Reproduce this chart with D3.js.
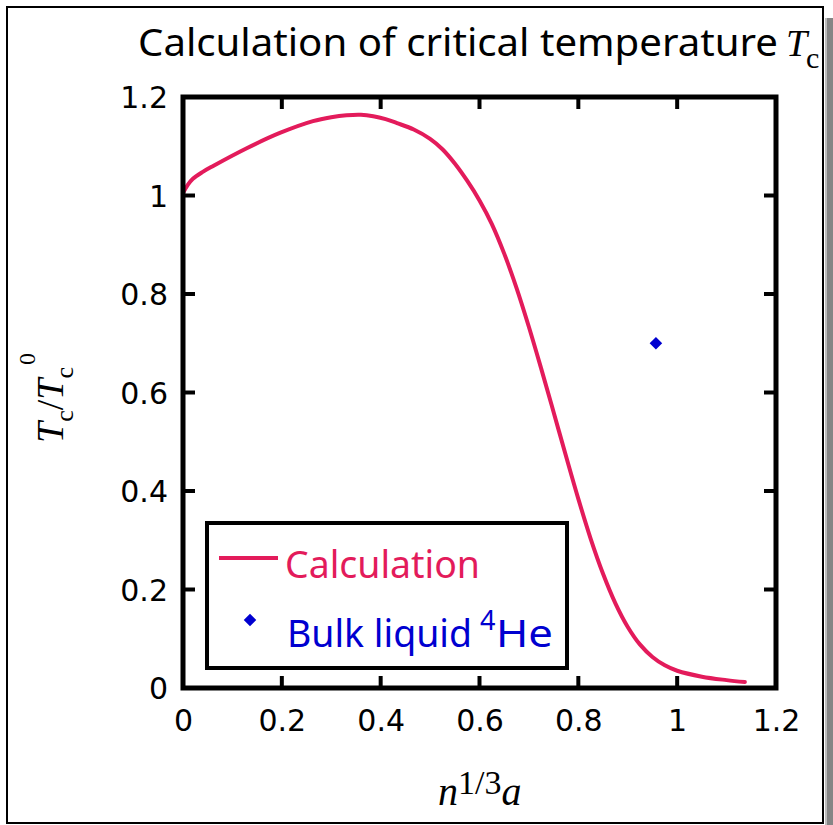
<!DOCTYPE html>
<html>
<head>
<meta charset="utf-8">
<script src="https://cdn.jsdelivr.net/npm/d3@7/dist/d3.min.js"></script>
<style>
  html, body { margin: 0; padding: 0; background: #fff; }
  svg { display: block; }
</style>
</head>
<body>
<script>
// Scaled interparticle spacing n^{1/3}a and reduced critical temperature Tc/Tc0
const spacing = [0, 0.01, 0.02, 0.04, 0.061, 0.129, 0.196, 0.263, 0.3, 0.331, 0.36, 0.385, 0.41,
  0.433, 0.467, 0.5, 0.525, 0.55, 0.575, 0.6, 0.625, 0.65, 0.675, 0.7, 0.725, 0.75, 0.775,
  0.8, 0.825, 0.85, 0.875, 0.9, 0.925, 0.95, 0.975, 1.0, 1.05, 1.1, 1.137];
const tcRatio = [1.005, 1.022, 1.034, 1.048, 1.06, 1.096, 1.127, 1.151, 1.159, 1.163, 1.164, 1.161, 1.155,
  1.147, 1.134, 1.115, 1.094, 1.065, 1.03, 0.99, 0.942, 0.882, 0.812, 0.733, 0.648, 0.56, 0.471,
  0.384, 0.303, 0.232, 0.172, 0.124, 0.088, 0.063, 0.046, 0.035, 0.023, 0.016, 0.012];

// Bulk liquid 4He reference point
const heliumX = [0.957];
const heliumY = [0.70];

const xTicks = [0, 0.2, 0.4, 0.6, 0.8, 1, 1.2];
const yTicks = [0, 0.2, 0.4, 0.6, 0.8, 1, 1.2];

const W = 833, H = 825;
const plot = { left: 183, right: 776, top: 97, bottom: 688 };
const lineColor = "#e31b5b";
const pointColor = "#0000d0";
const tickFont = "'DejaVu Sans', sans-serif";
const textFont = "'Noto Sans', 'DejaVu Sans', sans-serif";
const mathFont = "'Liberation Serif', 'DejaVu Serif', serif";

const svg = d3.select("body").append("svg").attr("width", W).attr("height", H);
svg.append("rect").attr("width", W).attr("height", H).attr("fill", "#fff");

// page frame with a grey shadow along the right edge
svg.append("rect").attr("x", 825).attr("y", 18).attr("width", 8).attr("height", H - 18).attr("fill", "#858585");
svg.append("rect").attr("x", 825).attr("y", 18).attr("width", 2).attr("height", H - 18).attr("fill", "#bdbdbd");
svg.append("rect").attr("x", 7).attr("y", 7).attr("width", 816).attr("height", 816)
  .attr("fill", "none").attr("stroke", "#000").attr("stroke-width", 2);

const x = d3.scaleLinear().domain([0, 1.2]).range([plot.left, plot.right]);
const y = d3.scaleLinear().domain([0, 1.2]).range([plot.bottom, plot.top]);

const fmt = d => (d === 0 || d === 1) ? String(d) : d3.format(".1f")(d);

// axes: inward ticks on all four sides, labels on bottom and left
const tickLen = 12;
const axisBottom = d3.axisBottom(x).tickValues(xTicks).tickSize(0).tickPadding(22).tickFormat(fmt);
const axisLeft = d3.axisLeft(y).tickValues(yTicks).tickSize(0).tickPadding(15).tickFormat(fmt);

const gx = svg.append("g").attr("transform", `translate(0,${plot.bottom})`).call(axisBottom);
const gy = svg.append("g").attr("transform", `translate(${plot.left},0)`).call(axisLeft);
[gx, gy].forEach(g => {
  g.select(".domain").remove();
  g.selectAll("text").attr("font-family", tickFont).attr("font-size", 30).attr("fill", "#000");
});
gx.selectAll("text").attr("dy", "0.71em");
gy.selectAll("text").attr("dy", "0.36em");

const inner = xTicks.filter(d => d > 0 && d < 1.2);
const innerY = yTicks.filter(d => d > 0 && d < 1.2);
const ticks = svg.append("g").attr("stroke", "#000").attr("stroke-width", 4);
inner.forEach(d => {
  ticks.append("line").attr("x1", x(d)).attr("x2", x(d)).attr("y1", plot.bottom).attr("y2", plot.bottom - tickLen);
  ticks.append("line").attr("x1", x(d)).attr("x2", x(d)).attr("y1", plot.top).attr("y2", plot.top + tickLen);
});
innerY.forEach(d => {
  ticks.append("line").attr("y1", y(d)).attr("y2", y(d)).attr("x1", plot.left).attr("x2", plot.left + tickLen);
  ticks.append("line").attr("y1", y(d)).attr("y2", y(d)).attr("x1", plot.right).attr("x2", plot.right - tickLen);
});

// calculated curve
const line = d3.line().x((d, i) => x(spacing[i])).y((d, i) => y(tcRatio[i])).curve(d3.curveCatmullRom.alpha(0.5));
svg.append("path").datum(spacing).attr("d", line)
  .attr("fill", "none").attr("stroke", lineColor).attr("stroke-width", 4).attr("stroke-linecap", "round");

// bulk liquid helium point
const diamond = d3.symbol().type(d3.symbolDiamond2).size(100);
svg.selectAll(".he").data(heliumX).join("path")
  .attr("class", "he")
  .attr("d", diamond)
  .attr("transform", (d, i) => `translate(${x(d)},${y(heliumY[i])})`)
  .attr("fill", pointColor);

// plot frame
svg.append("rect").attr("x", plot.left).attr("y", plot.top)
  .attr("width", plot.right - plot.left).attr("height", plot.bottom - plot.top)
  .attr("fill", "none").attr("stroke", "#000").attr("stroke-width", 5);

// legend
const lg = svg.append("g");
lg.append("rect").attr("x", 207).attr("y", 523).attr("width", 360).attr("height", 145)
  .attr("fill", "#fff").attr("stroke", "#000").attr("stroke-width", 4);
lg.append("line").attr("x1", 219).attr("x2", 278).attr("y1", 558).attr("y2", 558)
  .attr("stroke", lineColor).attr("stroke-width", 4);
lg.append("text").attr("x", 285).attr("y", 578).attr("font-family", textFont).attr("font-size", 38)
  .attr("fill", lineColor).attr("textLength", 195).attr("lengthAdjust", "spacingAndGlyphs").text("Calculation");
lg.append("path").attr("d", diamond).attr("transform", "translate(250,620)").attr("fill", pointColor);
const heText = lg.append("text").attr("y", 647).attr("font-family", textFont).attr("font-size", 38).attr("fill", pointColor);
heText.append("tspan").attr("x", 287).attr("textLength", 185).attr("lengthAdjust", "spacingAndGlyphs").text("Bulk liquid");
heText.append("tspan").attr("x", 480).attr("y", 630).attr("font-size", 27).text("4");
heText.append("tspan").attr("x", 496).attr("y", 647).attr("textLength", 57).attr("lengthAdjust", "spacingAndGlyphs").text("He");

// title
const title = svg.append("text").attr("y", 56).attr("font-family", textFont).attr("font-size", 38).attr("fill", "#000");
title.append("tspan").attr("x", 138).attr("textLength", 640).attr("lengthAdjust", "spacingAndGlyphs")
  .text("Calculation of critical temperature");
svg.append("text").attr("x", 786).attr("y", 56).attr("font-family", mathFont).attr("font-style", "italic")
  .attr("font-size", 38).text("T");
svg.append("text").attr("x", 806).attr("y", 68).attr("font-family", mathFont)
  .attr("font-size", 30).text("c");

// x-axis title n^{1/3} a
const xl = svg.append("text").attr("y", 805).attr("font-family", mathFont).attr("font-size", 40).attr("fill", "#000");
xl.append("tspan").attr("x", 438).attr("font-style", "italic").text("n");
xl.append("tspan").attr("dy", -11).attr("font-size", 34).text("1/3");
xl.append("tspan").attr("dy", 11).attr("font-style", "italic").text("a");

// y-axis title Tc/Tc^0
const yl = svg.append("text").attr("transform", "translate(63,443) rotate(-90)")
  .attr("font-family", mathFont).attr("font-size", 38).attr("fill", "#000");
yl.append("tspan").attr("font-style", "italic").text("T");
yl.append("tspan").attr("dy", 10).attr("font-size", 26).text("c");
yl.append("tspan").attr("dy", -10).text("/");
yl.append("tspan").attr("font-style", "italic").text("T");
yl.append("tspan").attr("dy", 10).attr("font-size", 26).text("c");
yl.append("tspan").attr("dy", -38).attr("dx", 2).attr("font-size", 24).text("0");
</script>
</body>
</html>
